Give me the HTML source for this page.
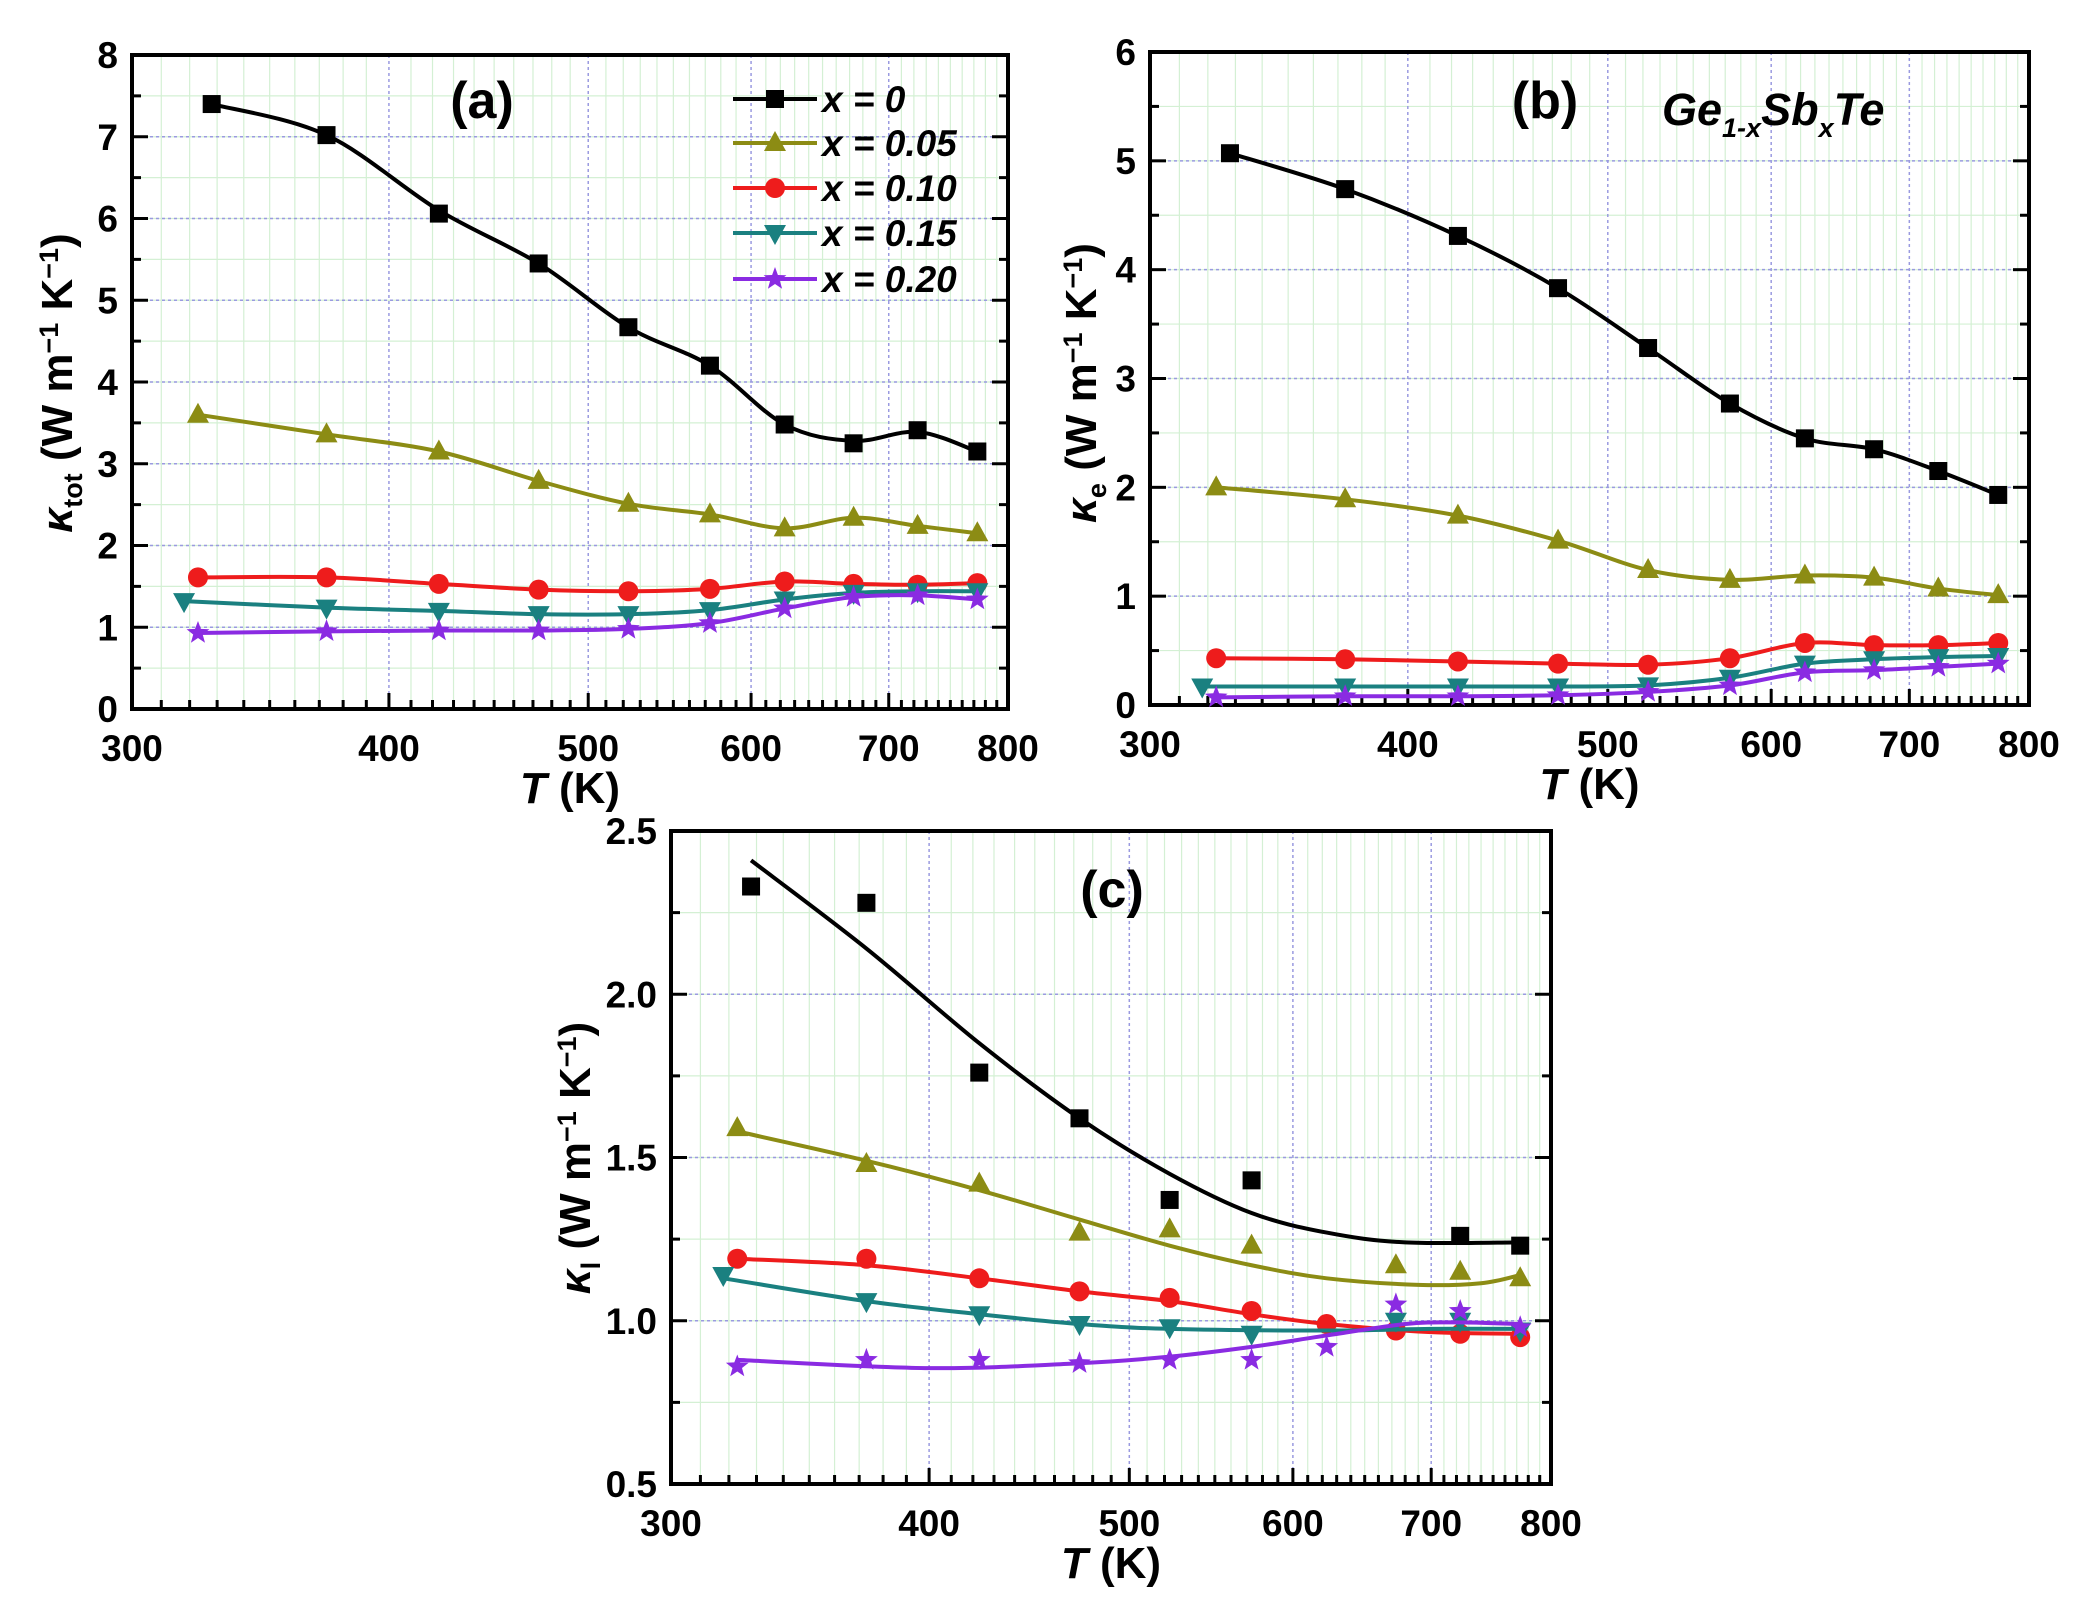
<!DOCTYPE html>
<html><head><meta charset="utf-8"><style>
html,body{margin:0;padding:0;background:#fff;}
svg text{font-family:"Liberation Sans",Arial,sans-serif;font-weight:bold;}
</style></head><body>
<svg id="s" xmlns="http://www.w3.org/2000/svg" width="2093" height="1610" viewBox="0 0 2093 1610"></svg>
<script>
const S=document.getElementById('s');let h='';
const C={k:'#000',o:'#8c8c14',r:'#ee1c1c',t:'#1a8080',p:'#8a2be2'};
const LN=Math.log(8/3);
function mk(P){
 const fx=T=>P.L+(P.R-P.L)*Math.log(T/300)/LN;
 const fy=v=>P.B-(P.B-P.T)*(v-P.y0)/(P.y1-P.y0);
 P.fx=fx;P.fy=fy;
 for(let T=310;T<800;T+=10){const x=fx(T);if(T%100==0)continue;h+=`<line x1="${x}" y1="${P.T}" x2="${x}" y2="${P.B}" stroke="#d4f0d4" stroke-width="1.2"/>`;}
 for(let v=P.y0+P.ym;v<P.y1-1e-9;v+=P.ym){const y=fy(v);h+=`<line x1="${P.L}" y1="${y}" x2="${P.R}" y2="${y}" stroke="#d4f0d4" stroke-width="1.2"/>`;}
 for(let T=400;T<800;T+=100){const x=fx(T);h+=`<line x1="${x}" y1="${P.T}" x2="${x}" y2="${P.B}" stroke="#9a9ae0" stroke-width="1.5" stroke-dasharray="3,3"/>`;}
 for(let v=P.y0+P.yM;v<P.y1-1e-9;v+=P.yM){const y=fy(v);h+=`<line x1="${P.L}" y1="${y}" x2="${P.R}" y2="${y}" stroke="#9a9ae0" stroke-width="1.5" stroke-dasharray="3,3"/>`;}
 for(let T=310;T<800;T+=10){const x=fx(T);const l=T%100==0?16:9;h+=`<line x1="${x}" y1="${P.B}" x2="${x}" y2="${P.B-l}" stroke="#000" stroke-width="3"/>`;}
 for(let v=P.y0;v<=P.y1+1e-9;v+=P.ym){const y=fy(v);const maj=Math.abs((v-P.y0)/P.yM-Math.round((v-P.y0)/P.yM))<1e-6;const l=maj?16:9;
  h+=`<line x1="${P.L}" y1="${y}" x2="${P.L+l}" y2="${y}" stroke="#000" stroke-width="3"/><line x1="${P.R}" y1="${y}" x2="${P.R-l}" y2="${y}" stroke="#000" stroke-width="3"/>`;
  if(maj)h+=`<text x="${P.L-14}" y="${y+13}" font-size="37" text-anchor="end">${P.fmt(v)}</text>`;}
 for(let T=300;T<=800;T+=100){h+=`<text x="${fx(T)}" y="${P.B+52}" font-size="37" text-anchor="middle">${T}</text>`;}
 h+=`<rect x="${P.L}" y="${P.T}" width="${P.R-P.L}" height="${P.B-P.T}" fill="none" stroke="#000" stroke-width="4"/>`;
 h+=`<text x="${(P.L+P.R)/2}" y="${P.B+94}" font-size="44" text-anchor="middle"><tspan font-style="italic">T</tspan> (K)</text>`;
}
function spline(pts){let d=`M${pts[0][0]},${pts[0][1]}`;
 for(let i=0;i<pts.length-1;i++){const p0=pts[i-1]||pts[i],p1=pts[i],p2=pts[i+1],p3=pts[i+2]||p2;
  const c1=[p1[0]+(p2[0]-p0[0])/6,p1[1]+(p2[1]-p0[1])/6],c2=[p2[0]-(p3[0]-p1[0])/6,p2[1]-(p3[1]-p1[1])/6];
  d+=` C${c1[0]},${c1[1]} ${c2[0]},${c2[1]} ${p2[0]},${p2[1]}`;}return d;}
function marker(t,x,y,c,s){s=s||1;
 if(t=='k')return `<rect x="${x-9*s}" y="${y-9*s}" width="${18*s}" height="${18*s}" fill="${c}"/>`;
 if(t=='o')return `<polygon points="${x},${y-12*s} ${x+11*s},${y+8*s} ${x-11*s},${y+8*s}" fill="${c}"/>`;
 if(t=='r')return `<circle cx="${x}" cy="${y}" r="${10*s}" fill="${c}"/>`;
 if(t=='t')return `<polygon points="${x-11*s},${y-8*s} ${x+11*s},${y-8*s} ${x},${y+12*s}" fill="${c}"/>`;
 let p=[];for(let i=0;i<10;i++){const r=i%2?5*s:12*s,a=-Math.PI/2+i*Math.PI/5;p.push((x+r*Math.cos(a)).toFixed(1)+','+(y+r*Math.sin(a)).toFixed(1));}
 return `<polygon points="${p.join(' ')}" fill="${c}"/>`;}
const Ts=[373,423,473,523,573,623,673,723,773];
function series(P,t,T0,vals,curve){const T=[T0,...Ts];
 const pts=[];T.forEach((tt,i)=>{if(vals[i]!=null)pts.push([P.fx(tt),P.fy(vals[i])]);});
 if(curve){const cp=curve.map(q=>[P.fx(q[0]),P.fy(q[1])]);h+=`<path d="${spline(cp)}" fill="none" stroke="${C[t]}" stroke-width="4"/>`;}
 else h+=`<path d="${spline(pts)}" fill="none" stroke="${C[t]}" stroke-width="4"/>`;
 pts.forEach(p=>h+=marker(t,p[0],p[1],C[t]));}
const A={L:132,R:1008,T:55,B:709,y0:0,y1:8,yM:1,ym:0.5,fmt:v=>v.toFixed(0)};mk(A);
series(A,'k',328,[7.4,7.02,6.06,5.45,4.67,4.2,3.48,3.25,3.41,3.15],[[328,7.4],[373,7.02],[423,6.1],[473,5.45],[523,4.67],[573,4.2],[623,3.48],[673,3.28],[723,3.39],[773,3.15]]);
series(A,'o',323,[3.6,3.36,3.15,2.79,2.51,2.38,2.21,2.34,2.24,2.15]);
series(A,'r',323,[1.61,1.61,1.53,1.46,1.44,1.47,1.56,1.53,1.52,1.54]);
series(A,'t',318,[1.32,1.24,1.2,1.16,1.16,1.21,1.34,1.42,1.44,1.44]);
series(A,'p',323,[0.93,0.95,0.96,0.96,0.98,1.05,1.23,1.37,1.39,1.34]);
h+=`<text x="482" y="118" font-size="52" text-anchor="middle">(a)</text>`;
const leg=[['k','0'],['o','0.05'],['r','0.10'],['t','0.15'],['p','0.20']];
leg.forEach((l,i)=>{const y=[99,143,188,233,279][i];h+=`<line x1="733" y1="${y}" x2="817" y2="${y}" stroke="${C[l[0]]}" stroke-width="4"/>`+marker(l[0],775,y,C[l[0]]);
 h+=`<text x="822" y="${y+13}" font-size="37" font-style="italic">x = ${l[1]}</text>`;});
h+=`<text transform="translate(72,383) rotate(-90)" font-size="44" text-anchor="middle"><tspan font-style="italic">κ</tspan><tspan font-size="27" dy="10">tot</tspan><tspan dy="-10"> (W m</tspan><tspan font-size="27" dy="-14">−1</tspan><tspan dy="14"> K</tspan><tspan font-size="27" dy="-14">−1</tspan><tspan dy="14">)</tspan></text>`;
const B={L:1150,R:2029,T:52,B:705,y0:0,y1:6,yM:1,ym:0.5,fmt:v=>v.toFixed(0)};mk(B);
series(B,'k',328,[5.07,4.74,4.31,3.83,3.28,2.77,2.45,2.35,2.15,1.93]);
series(B,'o',323,[2.0,1.89,1.74,1.51,1.24,1.15,1.19,1.17,1.07,1.01]);
series(B,'r',323,[0.43,0.42,0.4,0.38,0.37,0.43,0.57,0.55,0.55,0.57]);
series(B,'t',318,[0.17,0.17,0.17,0.17,0.18,0.25,0.38,0.42,0.44,0.45]);
series(B,'p',323,[0.07,0.08,0.08,0.09,0.12,0.18,0.3,0.32,0.35,0.38]);
h+=`<text x="1545" y="118" font-size="52" text-anchor="middle">(b)</text>`;
h+=`<text x="1662" y="125" font-size="45" font-style="italic">Ge<tspan font-size="27" dy="12">1-x</tspan><tspan dy="-12">Sb</tspan><tspan font-size="27" dy="12">x</tspan><tspan dy="-12">Te</tspan></text>`;
h+=`<text transform="translate(1096,383) rotate(-90)" font-size="44" text-anchor="middle"><tspan font-style="italic">κ</tspan><tspan font-size="27" dy="10">e</tspan><tspan dy="-10"> (W m</tspan><tspan font-size="27" dy="-14">−1</tspan><tspan dy="14"> K</tspan><tspan font-size="27" dy="-14">−1</tspan><tspan dy="14">)</tspan></text>`;
const Cc={L:671,R:1551,T:831,B:1484,y0:0.5,y1:2.5,yM:0.5,ym:0.25,fmt:v=>v.toFixed(1)};mk(Cc);
series(Cc,'k',328,[2.33,2.28,1.76,1.62,1.37,1.43,null,null,1.26,1.23],[[328,2.41],[373,2.14],[423,1.85],[473,1.62],[523,1.45],[573,1.33],[623,1.27],[680,1.24],[773,1.24]]);
series(Cc,'o',323,[1.59,1.48,1.42,1.27,1.28,1.23,null,1.17,1.15,1.13],[[323,1.58],[373,1.49],[423,1.40],[473,1.31],[523,1.23],[573,1.17],[623,1.13],[690,1.11],[740,1.115],[773,1.14]]);
series(Cc,'r',323,[1.19,1.19,1.13,1.09,1.07,1.03,0.99,0.97,0.96,0.95],[[323,1.19],[373,1.17],[423,1.13],[473,1.09],[523,1.06],[573,1.02],[623,0.99],[700,0.965],[773,0.96]]);
series(Cc,'t',318,[1.14,1.06,1.02,0.99,0.98,0.96,null,1.0,1.0,0.97],[[318,1.13],[373,1.06],[423,1.02],[473,0.99],[523,0.975],[623,0.97],[700,0.975],[773,0.975]]);
series(Cc,'p',323,[0.86,0.88,0.88,0.87,0.88,0.88,0.92,1.05,1.03,0.98],[[323,0.88],[400,0.855],[473,0.87],[523,0.89],[573,0.92],[623,0.955],[680,0.99],[720,0.995],[773,0.99]]);
h+=`<text x="1112" y="907" font-size="52" text-anchor="middle">(c)</text>`;
h+=`<text transform="translate(590,1158) rotate(-90)" font-size="44" text-anchor="middle"><tspan font-style="italic">κ</tspan><tspan font-size="27" dy="10">l</tspan><tspan dy="-10"> (W m</tspan><tspan font-size="27" dy="-14">−1</tspan><tspan dy="14"> K</tspan><tspan font-size="27" dy="-14">−1</tspan><tspan dy="14">)</tspan></text>`;
S.innerHTML=h;
</script>
</body></html>
